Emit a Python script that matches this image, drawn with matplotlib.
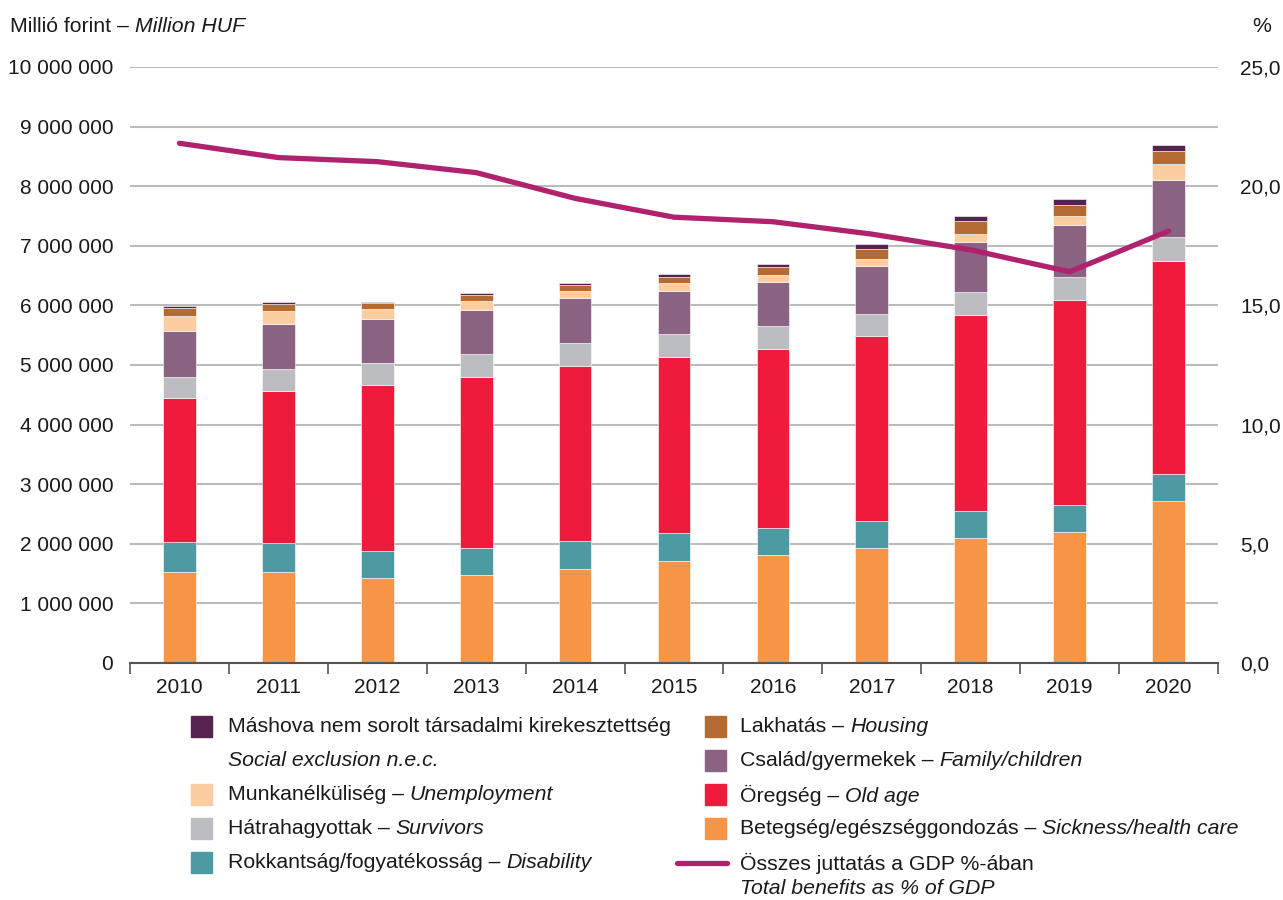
import numpy as np
import matplotlib.pyplot as plt
from matplotlib.patches import Rectangle
from matplotlib.lines import Line2D
from matplotlib.ticker import FuncFormatter, FixedLocator

plt.rcParams['font.family'] = ['Liberation Sans', 'DejaVu Sans']

# Data (million HUF per function)
years = ['2010', '2011', '2012', '2013', '2014', '2015', '2016', '2017', '2018', '2019', '2020']
sickness = [1.532, 1.532, 1.431, 1.477, 1.572, 1.717, 1.817, 1.935, 2.097, 2.203, 2.718]
disability = [0.498, 0.476, 0.448, 0.447, 0.475, 0.470, 0.453, 0.442, 0.448, 0.448, 0.448]
old_age = [2.416, 2.556, 2.780, 2.875, 2.942, 2.952, 3.003, 3.115, 3.294, 3.445, 3.586]
survivors = [0.353, 0.364, 0.375, 0.386, 0.375, 0.376, 0.376, 0.369, 0.381, 0.381, 0.391]
family = [0.777, 0.765, 0.743, 0.743, 0.755, 0.732, 0.749, 0.799, 0.839, 0.877, 0.961]
unemployment = [0.246, 0.218, 0.163, 0.151, 0.123, 0.129, 0.112, 0.113, 0.134, 0.151, 0.263]
housing = [0.134, 0.112, 0.095, 0.090, 0.100, 0.101, 0.134, 0.172, 0.218, 0.180, 0.219]
social_excl = [0.039, 0.029, 0.027, 0.034, 0.034, 0.050, 0.056, 0.084, 0.096, 0.100, 0.100]
gdp_share = [21.80, 21.20, 21.03, 20.57, 19.49, 18.70, 18.51, 17.99, 17.33, 16.41, 18.12]

series = [
    (sickness, '#F79547'),
    (disability, '#4E9AA2'),
    (old_age, '#EE1B3C'),
    (survivors, '#BCBDC0'),
    (family, '#8A6282'),
    (unemployment, '#FDCDA2'),
    (housing, '#B36B31'),
    (social_excl, '#56224F'),
]
line_color = '#B0226E'
txt_col = '#1a1a1a'
lfs = 15.3

fig = plt.figure(figsize=(12.83, 9), dpi=100)
ax = fig.add_axes([130 / 1283, 1 - 663 / 900, (1218 - 130) / 1283, (663 - 67) / 900])

x = np.arange(len(years))
bottom = np.zeros(len(years))
for vals, col in series:
    v = np.array(vals) * 1e6
    ax.bar(x, v, width=0.33, bottom=bottom, color=col, edgecolor='white', linewidth=0.4, zorder=3)
    bottom += v

ax.set_ylim(0, 1e7)
ax.set_xlim(-0.5, len(years) - 0.5)
ax.set_yticks(np.arange(0, 1e7 + 1, 1e6))
ax.yaxis.set_major_formatter(FuncFormatter(lambda v, p: f'{int(v):,}'.replace(',', ' ')))
ax.grid(axis='y', color='#BBBBBB', linewidth=1.5, zorder=0)
ax.set_axisbelow(True)
for s in ['left', 'right', 'top']:
    ax.spines[s].set_visible(False)
ax.spines['bottom'].set_color('#555555')
ax.spines['bottom'].set_linewidth(1.5)
ax.spines['bottom'].set_zorder(4)

ax.set_xticks(x)
ax.set_xticklabels(years)
ax.xaxis.set_minor_locator(FixedLocator(np.arange(-0.5, len(years), 1)))
ax.tick_params(axis='x', which='major', length=0, pad=11, labelsize=15, colors=txt_col)
ax.tick_params(axis='x', which='minor', length=8, width=1.2, color='#555555', direction='out')
ax.tick_params(axis='y', length=0, pad=12, labelsize=15, colors=txt_col)

ax2 = ax.twinx()
ax2.plot(x, gdp_share, color=line_color, linewidth=3.8, solid_capstyle='round', solid_joinstyle='round', zorder=5)
ax2.set_ylim(0, 25)
ax2.set_yticks(np.arange(0, 26, 5))
ax2.yaxis.set_major_formatter(FuncFormatter(lambda v, p: f'{v:.1f}'.replace('.', ',')))
ax2.tick_params(axis='y', length=0, pad=16, labelsize=15, colors=txt_col)
for s in ['left', 'right', 'top', 'bottom']:
    ax2.spines[s].set_visible(False)

# axis titles
t = fig.text(10 / 1283, 1 - 27 / 900, 'Millió forint – ', fontsize=15.3, va='center', color=txt_col)
fig.add_artist(plt.Annotation('Million HUF', xy=(1, 0), xycoords=t, va='bottom', ha='left',
                              fontsize=15.3, style='italic', color=txt_col))
fig.text(1262 / 1283, 1 - 27 / 900, '%', fontsize=15.3, va='center', ha='center', color=txt_col)


# legend
def two_part(xp, yp, normal, italic, fs=lfs):
    t1 = fig.text(xp / 1283, 1 - yp / 900, normal, fontsize=fs, va='center', color=txt_col)
    if italic:
        fig.add_artist(plt.Annotation(italic, xy=(1, 0), xycoords=t1, va='bottom', ha='left',
                                      fontsize=fs, style='italic', color=txt_col))


def swatch(xp, yp, col):
    fig.add_artist(Rectangle((xp / 1283, 1 - (yp + 10) / 900), 21 / 1283, 21 / 900,
                             transform=fig.transFigure, color=col))


col1 = [
    ('#56224F', 'Máshova nem sorolt társadalmi kirekesztettség', '', 727),
    ('#FDCDA2', 'Munkanélküliség – ', 'Unemployment', 795),
    ('#BCBDC0', 'Hátrahagyottak – ', 'Survivors', 829),
    ('#4E9AA2', 'Rokkantság/fogyatékosság – ', 'Disability', 863),
]
for col, n, it, yp in col1:
    swatch(191, yp, col)
    two_part(228, yp, n, it)
fig.text(228 / 1283, 1 - 761 / 900, 'Social exclusion n.e.c.', fontsize=lfs, style='italic',
         va='center', color=txt_col)

col2 = [
    ('#B36B31', 'Lakhatás – ', 'Housing', 727),
    ('#8A6282', 'Család/gyermekek – ', 'Family/children', 761),
    ('#EE1B3C', 'Öregség – ', 'Old age', 795),
    ('#F79547', 'Betegség/egészséggondozás – ', 'Sickness/health care', 829),
]
for col, n, it, yp in col2:
    swatch(705, yp, col)
    two_part(740, yp, n, it)
fig.add_artist(Line2D([677 / 1283, 727 / 1283], [1 - 863 / 900, 1 - 863 / 900], transform=fig.transFigure,
                      color=line_color, linewidth=3.8, solid_capstyle='round'))
two_part(740, 863, 'Összes juttatás a GDP %-ában', '')
fig.text(740 / 1283, 1 - 889 / 900, 'Total benefits as % of GDP', fontsize=lfs, style='italic',
         va='center', color=txt_col)

fig.savefig('out.png', dpi=100)
